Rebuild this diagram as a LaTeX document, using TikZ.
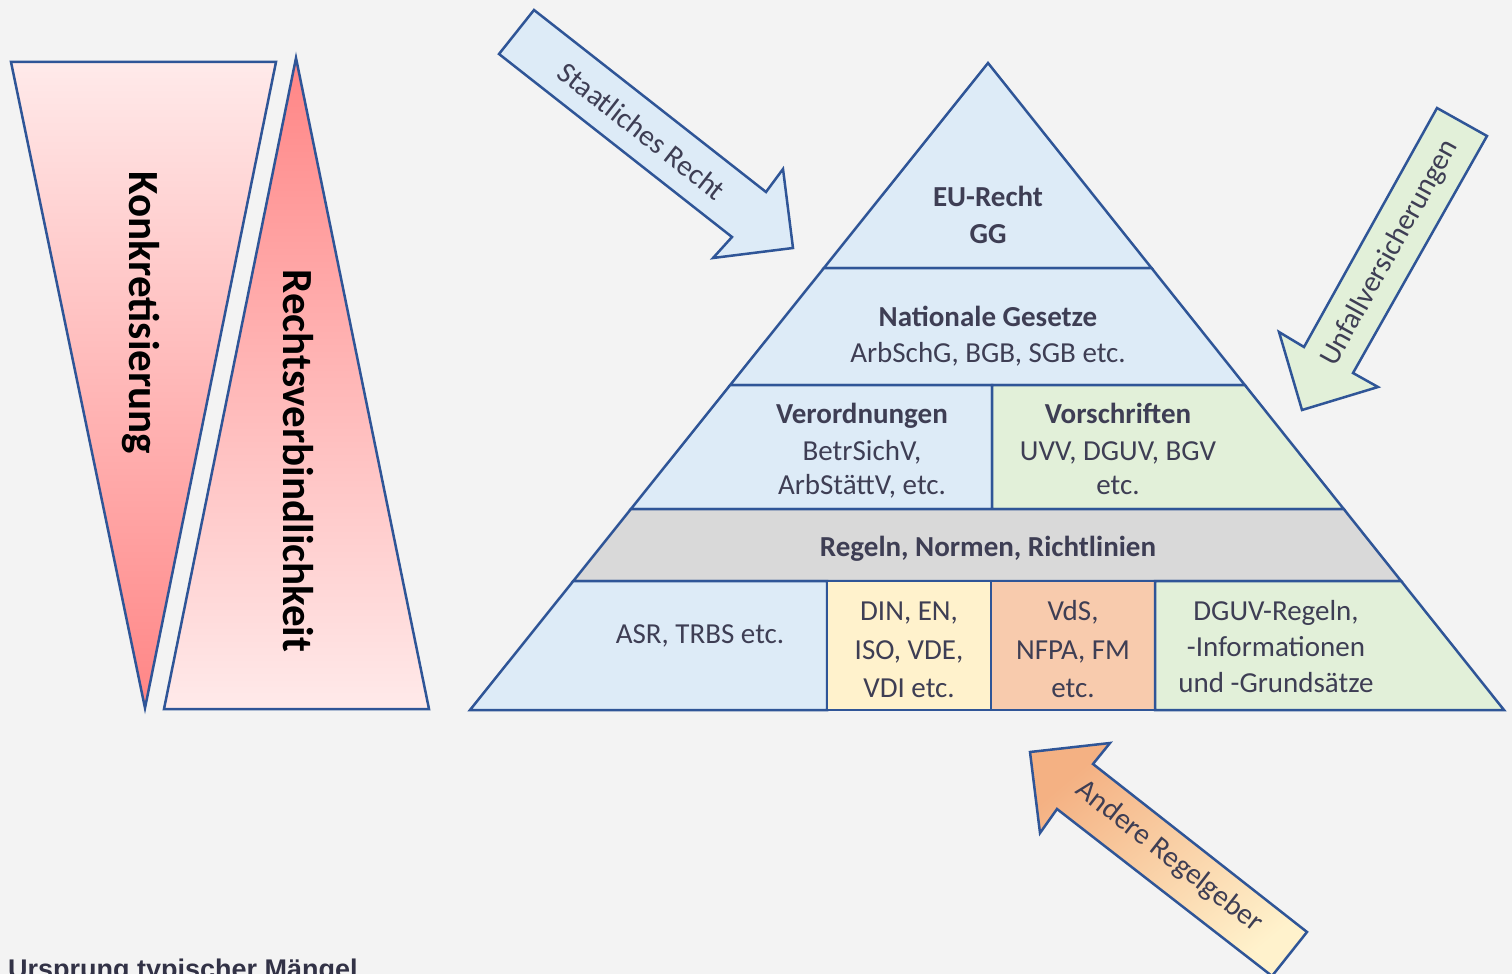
\documentclass[tikz,border=0pt]{standalone}
\usepackage{fontspec}
\setmainfont{Carlito}
\newfontfamily\bottomfont{Liberation Sans}
\definecolor{bgc}{HTML}{F3F3F3}
\definecolor{edge}{HTML}{2F5597}
\definecolor{lblue}{HTML}{DDEBF7}
\definecolor{lgreen}{HTML}{E2F0D9}
\definecolor{lgray}{HTML}{D9D9D9}
\definecolor{lyellow}{HTML}{FFF2CC}
\definecolor{lorange}{HTML}{F8CBAD}
\definecolor{harrow}{HTML}{F4B183}
\definecolor{pinkL}{HTML}{FFEAEA}
\definecolor{pinkD}{HTML}{FF8585}
\definecolor{tcol}{RGB}{62,62,84}
\definecolor{btcol}{RGB}{50,50,70}
\begin{document}
\begin{tikzpicture}[x=1pt,y=-1pt,
  shapeline/.style={draw=edge,line width=2.5pt,line join=miter},
  lbl/.style={text=tcol,anchor=base,inner sep=0pt,font=\fontsize{29}{34}\selectfont},
  blbl/.style={lbl,font=\fontsize{29}{34}\selectfont\bfseries},
  arrlbl/.style={text=tcol,inner sep=0pt,font=\fontsize{29.5}{34}\selectfont},
  bigrot/.style={text=black,anchor=base,inner sep=0pt,rotate=-90,font=\fontsize{43}{50}\selectfont\bfseries}]
\fill[bgc] (0,0) rectangle (1512,974);
\useasboundingbox (0,0) rectangle (1512,974);
\clip (0,0) rectangle (1512,974);

% left triangles
\path[shapeline,top color=pinkL,bottom color=pinkD] (11,62) -- (276,62) -- (145,708) -- cycle;
\path[shapeline,top color=pinkD,bottom color=pinkL] (296,58) -- (429,709) -- (164,709) -- cycle;
\node[bigrot] (konk) at (129,313) {Konkretisierung};
\node[bigrot] (rechts) at (283,461) {Rechtsverbindlichkeit};

% pyramid
\path[shapeline,fill=lblue] (988,63) -- (1151.5,268) -- (823.9,268) -- cycle;
\path[shapeline,fill=lblue] (823.9,268) -- (1151.5,268) -- (1244.8,385) -- (730.2,385) -- cycle;
\path[shapeline,fill=lblue] (730.2,385) -- (992,385) -- (992,509) -- (630.9,509) -- cycle;
\path[shapeline,fill=lgreen] (992,385) -- (1244.8,385) -- (1343.7,509) -- (992,509) -- cycle;
\path[shapeline,fill=lgray] (630.9,509) -- (1343.7,509) -- (1401.1,581) -- (573.3,581) -- cycle;
\path[shapeline,fill=lblue] (573.3,581) -- (827,581) -- (827,710) -- (470,710) -- cycle;
\path[shapeline,fill=lyellow] (827,581) -- (991,581) -- (991,710) -- (827,710) -- cycle;
\path[shapeline,fill=lorange] (991,581) -- (1155,581) -- (1155,710) -- (991,710) -- cycle;
\path[shapeline,fill=lgreen] (1155,581) -- (1401.1,581) -- (1504,710) -- (1155,710) -- cycle;

\node[blbl] (eu) at (988,206) {EU-Recht};
\node[blbl] (gg) at (988,243) {GG};
\node[blbl] (nat) at (988,326) {Nationale Gesetze};
\node[lbl] (arbsch) at (988,362) {ArbSchG, BGB, SGB etc.};
\node[blbl] (vero) at (862,423) {Verordnungen};
\node[lbl] (betr) at (862,460) {BetrSichV,};
\node[lbl] (arbst) at (862,494) {ArbStättV, etc.};
\node[blbl] (vors) at (1118,423) {Vorschriften};
\node[lbl] (uvv) at (1118,460) {UVV, DGUV, BGV};
\node[lbl] (etca) at (1118,494) {etc.};
\node[blbl] (regeln) at (988,556) {Regeln, Normen, Richtlinien};
\node[lbl] (asr) at (700,643) {ASR, TRBS etc.};
\node[lbl] (din) at (909,620) {DIN, EN,};
\node[lbl] (iso) at (909,659) {ISO, VDE,};
\node[lbl] (vdi) at (909,697) {VDI etc.};
\node[lbl] (vds) at (1073,620) {VdS,};
\node[lbl] (nfpa) at (1073,659) {NFPA, FM};
\node[lbl] (etcb) at (1073,697) {etc.};
\node[lbl] (dguv) at (1276,620) {DGUV-Regeln,};
\node[lbl] (info) at (1276,656) {-Informationen};
\node[lbl] (grund) at (1276,692) {und -Grundsätze};

% arrows
\path[shapeline,fill=lblue] (534,10) -- (766,192) -- (783,169) -- (793,248) -- (713,258) -- (732,237) -- (499,54) -- cycle;
\node[arrlbl,rotate=-38] (staat) at (642,131) {Staatliches Recht};

\path[shapeline,fill=lgreen] (1437,108) -- (1487,136) -- (1353,373) -- (1378,387) -- (1302,410) -- (1279,332) -- (1304,347) -- cycle;
\node[arrlbl,rotate=61] (unfall) at (1390,253) {Unfallversicherungen};

\path[shapeline,top color=harrow,bottom color=lyellow,shading angle=40] (1030,752) -- (1110,743) -- (1093,764) -- (1307,932) -- (1272,976) -- (1057,809) -- (1040,833) -- cycle;
\node[arrlbl,rotate=-38] (andere) at (1169,857) {Andere Regelgeber};

% bottom caption (cut off)
\node[text=btcol,anchor=base west,inner sep=0pt,font=\bottomfont\fontsize{27}{30}\selectfont\bfseries] (caption) at (8,978) {Ursprung typischer Mängel};
\end{tikzpicture}
\end{document}
